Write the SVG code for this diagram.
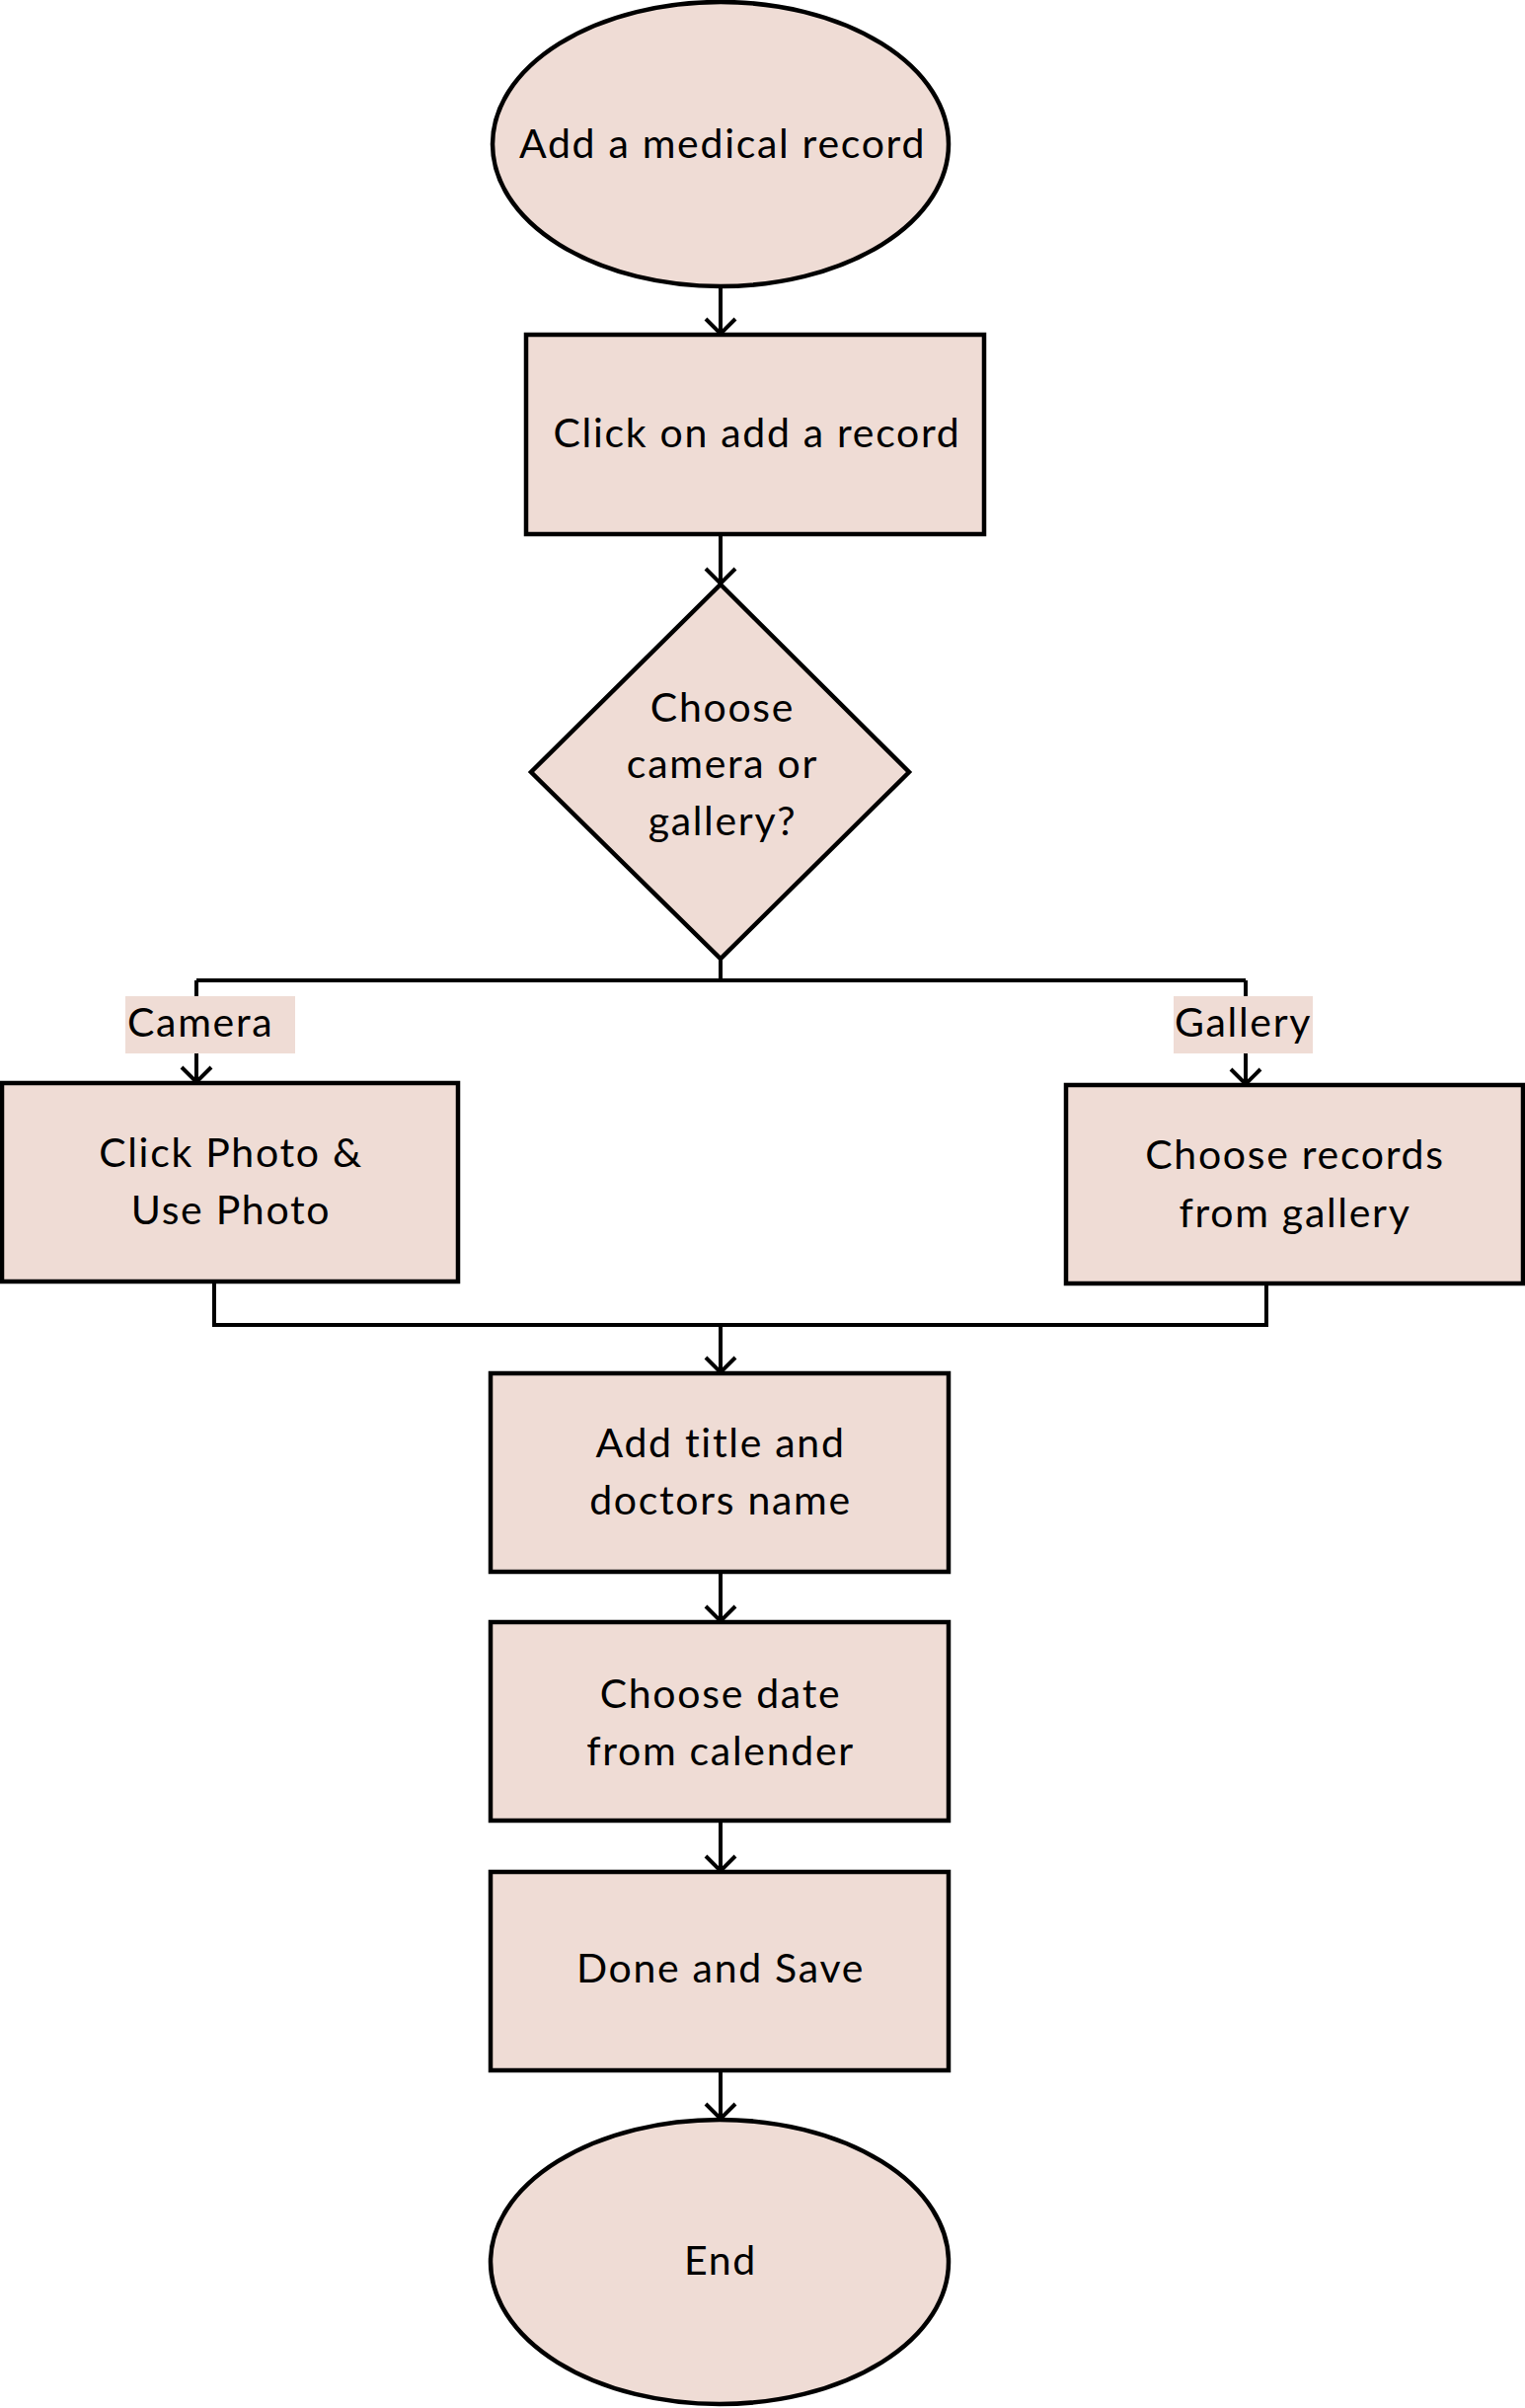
<svg xmlns="http://www.w3.org/2000/svg" width="1545" height="2439" viewBox="0 0 1545 2439">
<style>
.shape{fill:#EFDCD5;stroke:#000;stroke-width:4.5}
.lbl{fill:#EFDCD5;stroke:none}
.t{font-family:Lato,"Noto Sans","Liberation Sans",sans-serif;font-size:41px;letter-spacing:1.7px;fill:#000;text-anchor:middle}
.tl{font-family:Lato,"Noto Sans","Liberation Sans",sans-serif;font-size:41px;letter-spacing:1.7px;fill:#000;text-anchor:start}
.c{fill:none;stroke:#000;stroke-width:4}
</style>
<defs>
<marker id="arr" markerUnits="userSpaceOnUse" markerWidth="40" markerHeight="40" viewBox="-20 -20 40 40" refX="0" refY="0" orient="auto">
<path d="M-15,-15 L0,0 L-15,15" fill="none" stroke="#000" stroke-width="4"/>
</marker>
</defs>
<rect width="1545" height="2439" fill="#fff"/>
<g id="connectors">
<line class="c" x1="730" y1="291" x2="730" y2="338" marker-end="url(#arr)"/>
<line class="c" x1="730" y1="541" x2="730" y2="591" marker-end="url(#arr)"/>
<polyline class="c" points="730,971 730,993"/>
<polyline class="c" points="199,993 1262,993"/>
<polyline class="c" points="199,993 199,1096" marker-end="url(#arr)"/>
<polyline class="c" points="1262,993 1262,1098" marker-end="url(#arr)"/>
<polyline class="c" points="217,1298 217,1342 1283,1342 1283,1300"/>
<line class="c" x1="730" y1="1342" x2="730" y2="1390" marker-end="url(#arr)"/>
<line class="c" x1="730" y1="1592" x2="730" y2="1642" marker-end="url(#arr)"/>
<line class="c" x1="730" y1="1844" x2="730" y2="1895" marker-end="url(#arr)"/>
<line class="c" x1="730" y1="2097" x2="730" y2="2146" marker-end="url(#arr)"/>
<g id="label-camera">
<rect class="lbl" x="127" y="1009" width="172" height="58"/>
<text class="tl" x="129" y="1050">Camera</text>
</g>
<g id="label-gallery">
<rect class="lbl" x="1189" y="1009" width="141" height="58"/>
<text class="tl" x="1190" y="1050">Gallery</text>
</g>
</g>
<g id="start">
<ellipse class="shape" cx="730" cy="146" rx="231" ry="144"/>
<text class="t" x="732" y="160">Add a medical record</text>
</g>
<g id="click-add">
<rect class="shape" x="533" y="339" width="464" height="202"/>
<text class="t" x="767" y="453">Click on add a record</text>
</g>
<g id="decision">
<polygon class="shape" points="730,592 921,782 730,971 538,782"/>
<text class="t" x="732" y="731">Choose</text>
<text class="t" x="732" y="788">camera or</text>
<text class="t" x="732" y="846">gallery?</text>
</g>
<g id="camera">
<rect class="shape" x="2" y="1097" width="462" height="201"/>
<text class="t" x="234" y="1182">Click Photo &amp;</text>
<text class="t" x="234" y="1240">Use Photo</text>
</g>
<g id="gallery">
<rect class="shape" x="1080" y="1099" width="463" height="201"/>
<text class="t" x="1312" y="1184">Choose records</text>
<text class="t" x="1312" y="1243">from gallery</text>
</g>
<g id="add-title">
<rect class="shape" x="497" y="1391" width="464" height="201"/>
<text class="t" x="730" y="1476">Add title and</text>
<text class="t" x="730" y="1534">doctors name</text>
</g>
<g id="choose-date">
<rect class="shape" x="497" y="1643" width="464" height="201"/>
<text class="t" x="730" y="1730">Choose date</text>
<text class="t" x="730" y="1788">from calender</text>
</g>
<g id="done">
<rect class="shape" x="497" y="1896" width="464" height="201"/>
<text class="t" x="730" y="2008">Done and Save</text>
</g>
<g id="end">
<ellipse class="shape" cx="729" cy="2291" rx="232" ry="144"/>
<text class="t" x="730" y="2304">End</text>
</g>
</svg>
